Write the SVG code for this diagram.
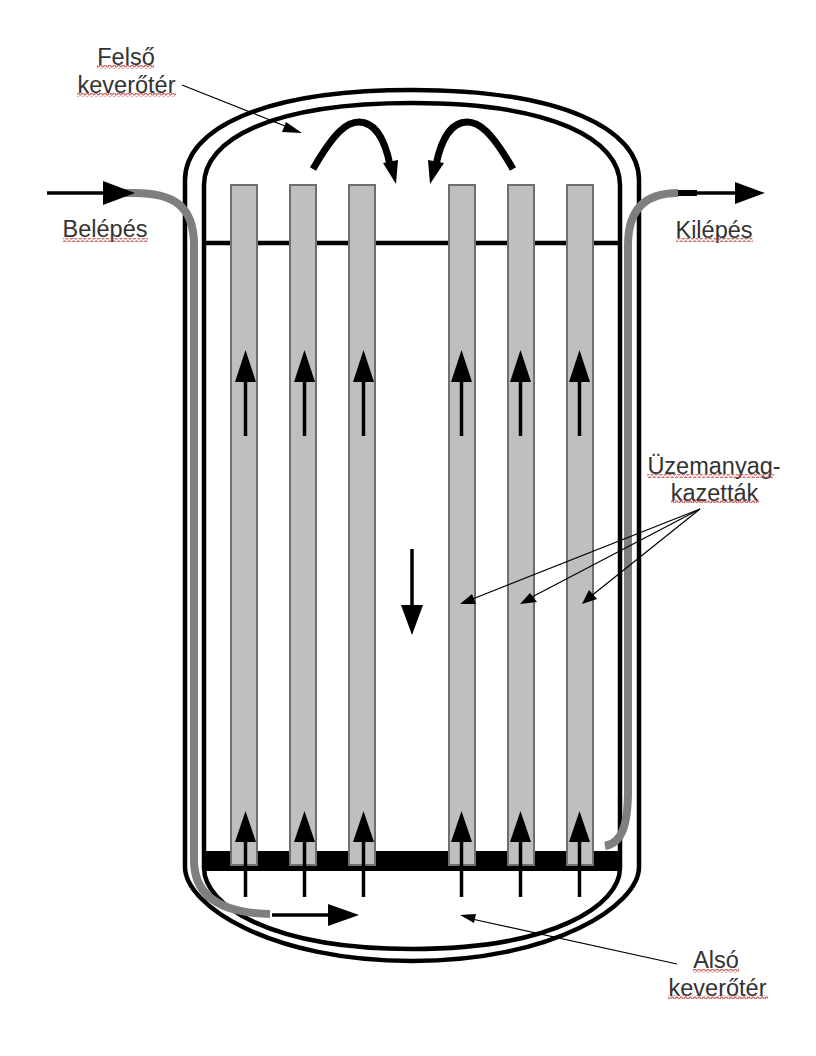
<svg xmlns="http://www.w3.org/2000/svg" width="816" height="1056" viewBox="0 0 816 1056">
<style>
.wall{fill:none;stroke:#000;stroke-width:4.5}
.pipe{fill:none;stroke:#7f7f7f;stroke-width:8}
.fuel{fill:#bfbfbf;stroke:#6f6f6f;stroke-width:2}
.flow{fill:none;stroke:#000;stroke-width:3.5}
.curve{fill:none;stroke:#000;stroke-width:7}
.lead{fill:none;stroke:#000;stroke-width:1.2}
.head{fill:#000}
text{font-family:"Liberation Sans",Arial,sans-serif;font-size:23.5px;fill:#333;text-anchor:middle}
</style>
<defs>
<pattern id="sq" width="4.5" height="4" patternUnits="userSpaceOnUse"><path d="M0 3 L1.1 1 L2.25 1 L3.4 3 L4.5 3" fill="none" stroke="#c0504d" stroke-width="1.2"/></pattern>
</defs>
<g id="vessel">
<path class="wall" d="M185 180C185 130 260 90 412 90C564 90 639 130 639 180V867C639 905 554 961 412 961C270 961 185 905 185 867Z"/>
<path class="wall" d="M204 185C204 140 270 103 412 103C554 103 620 140 620 185V868C620 905 554 949 412 949C270 949 204 905 204 868Z"/>
<line class="wall" x1="204" y1="243" x2="620" y2="243"/>
<rect x="204" y="851" width="416" height="20" fill="#000"/>
</g>
<g id="cassettes">
<rect class="fuel" x="231" y="185" width="26" height="680"/>
<rect class="fuel" x="290" y="185" width="26" height="680"/>
<rect class="fuel" x="349" y="185" width="26" height="680"/>
<rect class="fuel" x="449" y="185" width="26" height="680"/>
<rect class="fuel" x="508" y="185" width="26" height="680"/>
<rect class="fuel" x="567" y="185" width="26" height="680"/>
</g>
<g id="connectors">
<path class="pipe" d="M125 193H135C172 193 194 205 194 245V860C194 892 215 913 270 914"/>
<path class="pipe" d="M678 193C650 193 628 205 628 245V790C628 825 622 843 605 846"/>
<path d="M678 193H697" fill="none" stroke="#000" stroke-width="6"/>
<path class="flow" d="M47 193H105"/><polygon class="head" points="103,181 135,193 103,205"/>
<path class="flow" d="M695 193H737"/><polygon class="head" points="735,182 765,193 735,204"/>
<path class="flow" d="M272 915H330"/><polygon class="head" points="328,904 359,915 328,926"/>
<path class="flow" d="M412 549V607"/><polygon class="head" points="401,605 412,635 423,605"/>
<g id="up-arrows">
<path class="flow" d="M245.500 436V380"/><polygon class="head" points="235,382 245.500,350 256,382"/>
<path class="flow" d="M304.500 436V380"/><polygon class="head" points="294,382 304.500,350 315,382"/>
<path class="flow" d="M363.500 436V380"/><polygon class="head" points="353,382 363.500,350 374,382"/>
<path class="flow" d="M461.500 436V380"/><polygon class="head" points="451,382 461.500,350 472,382"/>
<path class="flow" d="M520.500 436V380"/><polygon class="head" points="510,382 520.500,350 531,382"/>
<path class="flow" d="M579.500 436V380"/><polygon class="head" points="569,382 579.500,350 590,382"/>
<path class="flow" d="M245.500 897V840"/><polygon class="head" points="235,842 245.500,811 256,842"/>
<path class="flow" d="M304.500 897V840"/><polygon class="head" points="294,842 304.500,811 315,842"/>
<path class="flow" d="M363.500 897V840"/><polygon class="head" points="353,842 363.500,811 374,842"/>
<path class="flow" d="M461.500 897V840"/><polygon class="head" points="451,842 461.500,811 472,842"/>
<path class="flow" d="M520.500 897V840"/><polygon class="head" points="510,842 520.500,811 531,842"/>
<path class="flow" d="M579.500 897V840"/><polygon class="head" points="569,842 579.500,811 590,842"/>
</g>
<path class="curve" d="M313 169C335 131 347 122 359 122C375 122 385 140 390 165"/><polygon class="head" points="383,163 396,184 398,160"/>
<path class="curve" d="M513 169C491 131 479 122 467 122C451 122 441 140 436 165"/><polygon class="head" points="444,163 430,184 428,160"/>
<path class="lead" d="M182 85L290 128"/><polygon class="head" points="286,122 302,133 282,132"/>
<path class="lead" d="M700 509L470 600"/><polygon class="head" points="472,594 460,604 476,604"/>
<path class="lead" d="M700 509L530 598"/><polygon class="head" points="530,593 520,604 537,602"/>
<path class="lead" d="M700 509L590 597"/><polygon class="head" points="589,590 582,604 597,599"/>
<path class="lead" d="M677 964L472 919"/><polygon class="head" points="476,914 460,915 474,923"/>
</g>
<g id="labels">
<text x="126" y="65">Felső</text><rect x="97" y="65" width="57" height="4" fill="url(#sq)"/>
<text x="126.500" y="93">keverőtér</text><rect x="77" y="93" width="99" height="4" fill="url(#sq)"/>
<text x="105" y="237">Belépés</text><rect x="63" y="238" width="85" height="4" fill="url(#sq)"/>
<text x="714" y="238">Kilépés</text><rect x="676" y="238" width="77" height="4" fill="url(#sq)"/>
<text x="714" y="474">Üzemanyag-</text><rect x="647" y="474" width="127" height="4" fill="url(#sq)"/>
<text x="714.500" y="501">kazetták</text><rect x="671" y="499" width="88" height="4" fill="url(#sq)"/>
<text x="716" y="968">Alsó</text><rect x="693" y="969" width="46" height="4" fill="url(#sq)"/>
<text x="717.500" y="996">keverőtér</text><rect x="668" y="995" width="100" height="4" fill="url(#sq)"/>
</g>
</svg>
